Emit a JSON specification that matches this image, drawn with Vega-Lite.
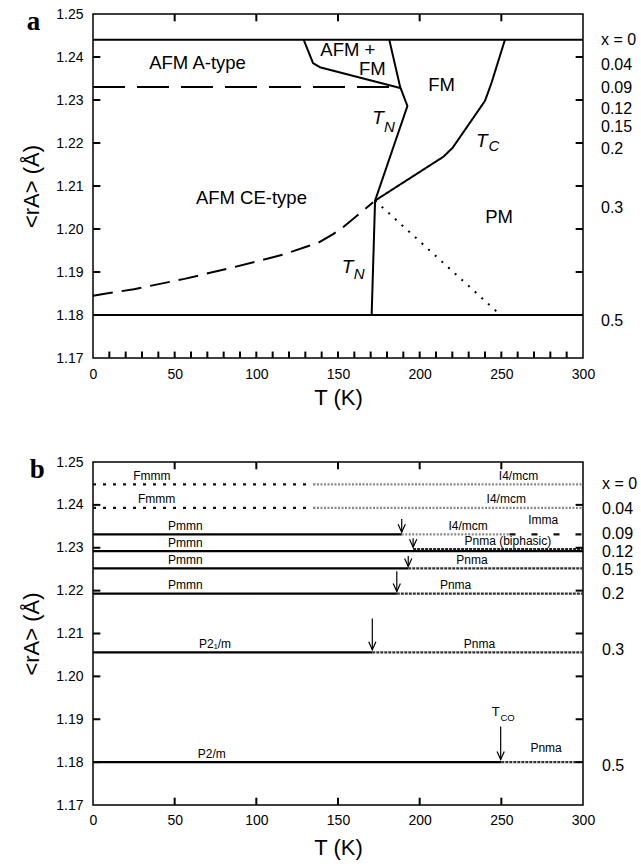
{
  "$schema": "https://vega.github.io/schema/vega-lite/v6.json",
  "padding": {"left": 20, "top": 6, "right": 5, "bottom": 5},
  "config": {
    "font": "Liberation Sans",
    "view": {"stroke": "black", "strokeWidth": 1.5},
    "axis": {"domain": false, "grid": false, "ticks": false, "labelColor": "black", "titleColor": "black", "labelFont": "Liberation Sans", "titleFont": "Liberation Sans", "labelFontSize": 14, "titleFontSize": 22, "titleFontWeight": "normal", "labelFlush": false, "labelOverlap": false}
  },
  "resolve": {"scale": {"strokeDash": "independent", "color": "independent", "strokeWidth": "independent"}},
  "datasets": {
    "ticksMinorT": [{"T": 10}, {"T": 20}, {"T": 30}, {"T": 40}, {"T": 50}, {"T": 60}, {"T": 70}, {"T": 80}, {"T": 90}, {"T": 100}, {"T": 110}, {"T": 120}, {"T": 130}, {"T": 140}, {"T": 150}, {"T": 160}, {"T": 170}, {"T": 180}, {"T": 190}, {"T": 200}, {"T": 210}, {"T": 220}, {"T": 230}, {"T": 240}, {"T": 250}, {"T": 260}, {"T": 270}, {"T": 280}, {"T": 290}],
    "ticksMajorT": [{"T": 50}, {"T": 100}, {"T": 150}, {"T": 200}, {"T": 250}],
    "ticksR": [{"rA": 1.18}, {"rA": 1.19}, {"rA": 1.2}, {"rA": 1.21}, {"rA": 1.22}, {"rA": 1.23}, {"rA": 1.24}],
    "boundariesA": [
      {"line": "x0", "i": 1, "T": 0, "rA": 1.244, "kind": "boundary"},
      {"line": "x0", "i": 2, "T": 300, "rA": 1.244, "kind": "boundary"},
      {"line": "x05", "i": 1, "T": 0, "rA": 1.18, "kind": "boundary"},
      {"line": "x05", "i": 2, "T": 300, "rA": 1.18, "kind": "boundary"},
      {"line": "Atype", "i": 1, "T": 0, "rA": 1.233, "kind": "A-type limit"},
      {"line": "Atype", "i": 2, "T": 188, "rA": 1.233, "kind": "A-type limit"},
      {"line": "AFMFM", "i": 1, "T": 129, "rA": 1.244, "kind": "boundary"},
      {"line": "AFMFM", "i": 2, "T": 134.7, "rA": 1.2386, "kind": "boundary"},
      {"line": "AFMFM", "i": 3, "T": 139, "rA": 1.2376, "kind": "boundary"},
      {"line": "AFMFM", "i": 4, "T": 188, "rA": 1.2328, "kind": "boundary"},
      {"line": "TN", "i": 1, "T": 181.4, "rA": 1.244, "kind": "boundary"},
      {"line": "TN", "i": 2, "T": 188, "rA": 1.2331, "kind": "boundary"},
      {"line": "TN", "i": 3, "T": 192.5, "rA": 1.2286, "kind": "boundary"},
      {"line": "TN", "i": 4, "T": 172.7, "rA": 1.2066, "kind": "boundary"},
      {"line": "TN", "i": 5, "T": 170.6, "rA": 1.18, "kind": "boundary"},
      {"line": "TC", "i": 1, "T": 252.2, "rA": 1.244, "kind": "boundary"},
      {"line": "TC", "i": 2, "T": 244, "rA": 1.234, "kind": "boundary"},
      {"line": "TC", "i": 3, "T": 240, "rA": 1.2298, "kind": "boundary"},
      {"line": "TC", "i": 4, "T": 220.2, "rA": 1.2189, "kind": "boundary"},
      {"line": "TC", "i": 5, "T": 214.5, "rA": 1.2168, "kind": "boundary"},
      {"line": "TC", "i": 6, "T": 172.7, "rA": 1.2066, "kind": "boundary"},
      {"line": "CE", "i": 1, "T": 0, "rA": 1.1845, "kind": "CE limit"},
      {"line": "CE", "i": 2, "T": 10, "rA": 1.1851, "kind": "CE limit"},
      {"line": "CE", "i": 3, "T": 25, "rA": 1.186, "kind": "CE limit"},
      {"line": "CE", "i": 4, "T": 56, "rA": 1.1884, "kind": "CE limit"},
      {"line": "CE", "i": 5, "T": 86, "rA": 1.1911, "kind": "CE limit"},
      {"line": "CE", "i": 6, "T": 116, "rA": 1.194, "kind": "CE limit"},
      {"line": "CE", "i": 7, "T": 138, "rA": 1.1968, "kind": "CE limit"},
      {"line": "CE", "i": 8, "T": 147, "rA": 1.1988, "kind": "CE limit"},
      {"line": "CE", "i": 9, "T": 153, "rA": 1.2004, "kind": "CE limit"},
      {"line": "CE", "i": 10, "T": 171.5, "rA": 1.2062, "kind": "CE limit"},
      {"line": "CO", "i": 1, "T": 172.7, "rA": 1.2066, "kind": "charge order"},
      {"line": "CO", "i": 2, "T": 248.6, "rA": 1.1803, "kind": "charge order"}
    ],
    "regionsA": [
      {"label": "AFM A-type", "T": 64, "rA": 1.2385},
      {"label": "AFM +", "T": 156, "rA": 1.2417},
      {"label": "FM", "T": 171, "rA": 1.2371},
      {"label": "FM", "T": 213.4, "rA": 1.2335},
      {"label": "AFM CE-type", "T": 97, "rA": 1.2072},
      {"label": "PM", "T": 248.6, "rA": 1.2028}
    ],
    "symbolsA": [
      {"text": "T", "role": "main", "T": 174.5, "rA": 1.2259},
      {"text": "N", "role": "sub", "T": 181.5, "rA": 1.2238},
      {"text": "T", "role": "main", "T": 238, "rA": 1.2204},
      {"text": "C", "role": "sub", "T": 245.5, "rA": 1.2192},
      {"text": "T", "role": "main", "T": 155.8, "rA": 1.1912},
      {"text": "N", "role": "sub", "T": 163, "rA": 1.1895}
    ],
    "compositions": [
      {"composition": "x = 0", "rA_a": 1.244, "rA_b": 1.2448},
      {"composition": "0.04", "rA_a": 1.2382, "rA_b": 1.2391},
      {"composition": "0.09", "rA_a": 1.2327, "rA_b": 1.2331},
      {"composition": "0.12", "rA_a": 1.228, "rA_b": 1.229},
      {"composition": "0.15", "rA_a": 1.2237, "rA_b": 1.2247},
      {"composition": "0.2", "rA_a": 1.2186, "rA_b": 1.2193},
      {"composition": "0.3", "rA_a": 1.2049, "rA_b": 1.2061},
      {"composition": "0.5", "rA_a": 1.1786, "rA_b": 1.1792}
    ],
    "segmentsB": [
      {"composition": "0", "phase": "Fmmm", "T1": 0, "T2": 135, "rA": 1.2448},
      {"composition": "0", "phase": "I4/mcm", "T1": 135, "T2": 300, "rA": 1.2448},
      {"composition": "0.04", "phase": "Fmmm", "T1": 0, "T2": 135, "rA": 1.2393},
      {"composition": "0.04", "phase": "I4/mcm", "T1": 135, "T2": 300, "rA": 1.2393},
      {"composition": "0.09", "phase": "Pmmn", "T1": 0, "T2": 189, "rA": 1.2331},
      {"composition": "0.09", "phase": "I4/mcm", "T1": 189, "T2": 255, "rA": 1.2331},
      {"composition": "0.09", "phase": "Imma", "T1": 255, "T2": 300, "rA": 1.2331},
      {"composition": "0.12", "phase": "Pmmn", "T1": 0, "T2": 300, "rA": 1.2292},
      {"composition": "0.12", "phase": "Pnma (biphasic)", "T1": 196, "T2": 300, "rA": 1.2297},
      {"composition": "0.15", "phase": "Pmmn", "T1": 0, "T2": 193, "rA": 1.2252},
      {"composition": "0.15", "phase": "Pnma", "T1": 193, "T2": 300, "rA": 1.2252},
      {"composition": "0.2", "phase": "Pmmn", "T1": 0, "T2": 186, "rA": 1.2193},
      {"composition": "0.2", "phase": "Pnma", "T1": 186, "T2": 300, "rA": 1.2193},
      {"composition": "0.3", "phase": "P2₁/m", "T1": 0, "T2": 171, "rA": 1.2056},
      {"composition": "0.3", "phase": "Pnma", "T1": 171, "T2": 300, "rA": 1.2056},
      {"composition": "0.5", "phase": "P2/m", "T1": 0, "T2": 250, "rA": 1.18},
      {"composition": "0.5", "phase": "Pnma", "T1": 250, "T2": 300, "rA": 1.18}
    ],
    "arrowsB": [
      {"composition": "0.09", "T": 189, "rTop": 1.2367, "rTip": 1.2336},
      {"composition": "0.12", "T": 196, "rTop": 1.2322, "rTip": 1.2301},
      {"composition": "0.15", "T": 193, "rTop": 1.2281, "rTip": 1.2256},
      {"composition": "0.2", "T": 186, "rTop": 1.2245, "rTip": 1.2198},
      {"composition": "0.3", "T": 171, "rTop": 1.2135, "rTip": 1.2062},
      {"composition": "0.5", "T": 249.6, "rTop": 1.1883, "rTip": 1.1806}
    ],
    "phaseLabelsB": [
      {"label": "Fmmm", "T": 36, "rA": 1.2448},
      {"label": "Fmmm", "T": 39, "rA": 1.2393},
      {"label": "Pmmn", "T": 56.6, "rA": 1.2331},
      {"label": "Pmmn", "T": 56.6, "rA": 1.2292},
      {"label": "Pmmn", "T": 56.6, "rA": 1.2252},
      {"label": "Pmmn", "T": 56.6, "rA": 1.2193},
      {"label": "P2₁/m", "T": 74.7, "rA": 1.2056},
      {"label": "P2/m", "T": 72.7, "rA": 1.18},
      {"label": "I4/mcm", "T": 260.5, "rA": 1.2448},
      {"label": "I4/mcm", "T": 253, "rA": 1.2393},
      {"label": "I4/mcm", "T": 229.7, "rA": 1.2331},
      {"label": "Imma", "T": 275.6, "rA": 1.2345},
      {"label": "Pnma (biphasic)", "T": 254, "rA": 1.2297},
      {"label": "Pnma", "T": 232, "rA": 1.2252},
      {"label": "Pnma", "T": 222, "rA": 1.2193},
      {"label": "Pnma", "T": 236.6, "rA": 1.2056},
      {"label": "Pnma", "T": 277.4, "rA": 1.1814}
    ],
    "symbolsB": [
      {"text": "T", "role": "main", "T": 246.5, "rA": 1.1916},
      {"text": "CO", "role": "sub", "T": 253.8, "rA": 1.1904}
    ]
  },
  "vconcat": [
    {
      "width": 490,
      "height": 344,
      "title": {"text": "a", "anchor": "start", "frame": "bounds", "font": "Liberation Serif", "fontSize": 27, "fontWeight": "bold", "color": "black", "dy": 33, "dx": 6},
      "layer": [
        {
          "data": {"name": "boundariesA"},
          "mark": {"type": "line", "strokeWidth": 2, "color": "black"},
          "encoding": {
            "x": {"field": "T", "type": "quantitative", "scale": {"domain": [0, 300], "nice": false},
              "axis": {"orient": "bottom", "values": [0, 50, 100, 150, 200, 250, 300], "labelPadding": 9, "title": "T (K)", "titlePadding": 6}},
            "y": {"field": "rA", "type": "quantitative", "scale": {"domain": [1.17, 1.25], "nice": false, "zero": false},
              "axis": {"orient": "left", "values": [1.17,1.18,1.19,1.2,1.21,1.22,1.23,1.24,1.25], "format": ".2f", "labelPadding": 10, "title": "<rA> (Å)", "titlePadding": 12}},
            "detail": {"field": "line"},
            "order": {"field": "i"},
            "strokeDash": {"field": "kind", "type": "nominal", "scale": {"domain": ["boundary", "A-type limit", "CE limit", "charge order"], "range": [[1, 0], [32, 12], [20, 9], [2, 7]]}, "legend": null}
          }
        },
        {
          "data": {"name": "ticksMinorT"},
          "mark": {"type": "rule", "color": "black", "strokeWidth": 2},
          "encoding": {
            "x": {"field": "T", "type": "quantitative"},
            "y": {"datum": 1.17, "type": "quantitative"},
            "y2": {"datum": 1.1715}
          }
        },
        {
          "data": {"name": "ticksMajorT"},
          "mark": {"type": "rule", "color": "black", "strokeWidth": 2},
          "encoding": {
            "x": {"field": "T", "type": "quantitative"},
            "y": {"datum": 1.25, "type": "quantitative"},
            "y2": {"datum": 1.2483}
          }
        },
        {
          "data": {"name": "ticksR"},
          "mark": {"type": "rule", "color": "black", "strokeWidth": 2},
          "encoding": {
            "x": {"datum": 0, "type": "quantitative"},
            "x2": {"datum": 4.5},
            "y": {"field": "rA", "type": "quantitative"}
          }
        },
        {
          "data": {"name": "ticksR"},
          "mark": {"type": "rule", "color": "black", "strokeWidth": 2},
          "encoding": {
            "x": {"datum": 300, "type": "quantitative"},
            "x2": {"datum": 295.5},
            "y": {"field": "rA", "type": "quantitative"}
          }
        },
        {
          "data": {"name": "regionsA"},
          "mark": {"type": "text", "fontSize": 18.5, "baseline": "middle", "align": "center", "color": "black"},
          "encoding": {
            "x": {"field": "T", "type": "quantitative"},
            "y": {"field": "rA", "type": "quantitative"},
            "text": {"field": "label"}
          }
        },
        {
          "data": {"name": "symbolsA"},
          "transform": [{"filter": "datum.role === 'main'"}],
          "mark": {"type": "text", "fontSize": 19, "fontStyle": "italic", "baseline": "middle", "align": "center", "color": "black"},
          "encoding": {
            "x": {"field": "T", "type": "quantitative"},
            "y": {"field": "rA", "type": "quantitative"},
            "text": {"field": "text"}
          }
        },
        {
          "data": {"name": "symbolsA"},
          "transform": [{"filter": "datum.role === 'sub'"}],
          "mark": {"type": "text", "fontSize": 15, "fontStyle": "italic", "baseline": "middle", "align": "center", "color": "black"},
          "encoding": {
            "x": {"field": "T", "type": "quantitative"},
            "y": {"field": "rA", "type": "quantitative"},
            "text": {"field": "text"}
          }
        },
        {
          "data": {"name": "compositions"},
          "mark": {"type": "text", "fontSize": 16, "baseline": "middle", "align": "left", "dx": 18, "color": "black"},
          "encoding": {
            "x": {"datum": 300, "type": "quantitative"},
            "y": {"field": "rA_a", "type": "quantitative"},
            "text": {"field": "composition"}
          }
        }
      ]
    },
    {
      "width": 490,
      "height": 343,
      "title": {"text": "b", "anchor": "start", "frame": "bounds", "font": "Liberation Serif", "fontSize": 27, "fontWeight": "bold", "color": "black", "dy": 33, "dx": 9},
      "layer": [
        {
          "data": {"name": "segmentsB"},
          "mark": {"type": "rule"},
          "encoding": {
            "x": {"field": "T1", "type": "quantitative", "scale": {"domain": [0, 300], "nice": false},
              "axis": {"orient": "bottom", "values": [0, 50, 100, 150, 200, 250, 300], "labelPadding": 8, "title": "T (K)", "titlePadding": 10}},
            "x2": {"field": "T2"},
            "y": {"field": "rA", "type": "quantitative", "scale": {"domain": [1.17, 1.25], "nice": false, "zero": false},
              "axis": {"orient": "left", "values": [1.17,1.18,1.19,1.2,1.21,1.22,1.23,1.24,1.25], "format": ".2f", "labelPadding": 10, "title": "<rA> (Å)", "titlePadding": 12}},
            "color": {"field": "phase", "type": "nominal", "scale": {"domain": ["Fmmm", "I4/mcm", "Pmmn", "Imma", "Pnma", "Pnma (biphasic)", "P2₁/m", "P2/m"], "range": ["#111111", "#8a8a8a", "#000000", "#111111", "#333333", "#222222", "#000000", "#000000"]}, "legend": null},
            "strokeDash": {"field": "phase", "type": "nominal", "scale": {"domain": ["Fmmm", "I4/mcm", "Pmmn", "Imma", "Pnma", "Pnma (biphasic)", "P2₁/m", "P2/m"], "range": [[3, 7], [2, 1.5], [1, 0], [6, 16], [3, 1], [3, 1], [1, 0], [1, 0]]}, "legend": null},
            "strokeWidth": {"field": "phase", "type": "nominal", "scale": {"domain": ["Fmmm", "I4/mcm", "Pmmn", "Imma", "Pnma", "Pnma (biphasic)", "P2₁/m", "P2/m"], "range": [2.2, 2.2, 2.5, 4, 3, 3.5, 2.5, 2.5]}, "legend": null}
          }
        },
        {
          "data": {"name": "ticksMajorT"},
          "mark": {"type": "rule", "color": "black", "strokeWidth": 2},
          "encoding": {
            "x": {"field": "T", "type": "quantitative"},
            "y": {"datum": 1.17, "type": "quantitative"},
            "y2": {"datum": 1.1717}
          }
        },
        {
          "data": {"name": "ticksMajorT"},
          "mark": {"type": "rule", "color": "black", "strokeWidth": 2},
          "encoding": {
            "x": {"field": "T", "type": "quantitative"},
            "y": {"datum": 1.25, "type": "quantitative"},
            "y2": {"datum": 1.2483}
          }
        },
        {
          "data": {"name": "ticksR"},
          "mark": {"type": "rule", "color": "black", "strokeWidth": 2},
          "encoding": {
            "x": {"datum": 0, "type": "quantitative"},
            "x2": {"datum": 4.5},
            "y": {"field": "rA", "type": "quantitative"}
          }
        },
        {
          "data": {"name": "ticksR"},
          "mark": {"type": "rule", "color": "black", "strokeWidth": 2},
          "encoding": {
            "x": {"datum": 300, "type": "quantitative"},
            "x2": {"datum": 295.5},
            "y": {"field": "rA", "type": "quantitative"}
          }
        },
        {
          "data": {"name": "arrowsB"},
          "mark": {"type": "rule", "color": "black", "strokeWidth": 1.2},
          "encoding": {
            "x": {"field": "T", "type": "quantitative"},
            "y": {"field": "rTop", "type": "quantitative"},
            "y2": {"field": "rTip"}
          }
        },
        {
          "data": {"name": "arrowsB"},
          "mark": {"type": "point", "shape": "M-0.45,-1L0,0L0.45,-1", "size": 256, "filled": false, "color": "black", "strokeWidth": 1.2, "opacity": 1},
          "encoding": {
            "x": {"field": "T", "type": "quantitative"},
            "y": {"field": "rTip", "type": "quantitative"}
          }
        },
        {
          "data": {"name": "phaseLabelsB"},
          "mark": {"type": "text", "fontSize": 12, "baseline": "bottom", "align": "center", "dy": -1.5, "color": "black"},
          "encoding": {
            "x": {"field": "T", "type": "quantitative"},
            "y": {"field": "rA", "type": "quantitative"},
            "text": {"field": "label"}
          }
        },
        {
          "data": {"name": "symbolsB"},
          "transform": [{"filter": "datum.role === 'main'"}],
          "mark": {"type": "text", "fontSize": 13, "baseline": "middle", "align": "center", "color": "black"},
          "encoding": {
            "x": {"field": "T", "type": "quantitative"},
            "y": {"field": "rA", "type": "quantitative"},
            "text": {"field": "text"}
          }
        },
        {
          "data": {"name": "symbolsB"},
          "transform": [{"filter": "datum.role === 'sub'"}],
          "mark": {"type": "text", "fontSize": 9.5, "baseline": "middle", "align": "center", "color": "black"},
          "encoding": {
            "x": {"field": "T", "type": "quantitative"},
            "y": {"field": "rA", "type": "quantitative"},
            "text": {"field": "text"}
          }
        },
        {
          "data": {"name": "compositions"},
          "mark": {"type": "text", "fontSize": 16, "baseline": "middle", "align": "left", "dx": 19, "color": "black"},
          "encoding": {
            "x": {"datum": 300, "type": "quantitative"},
            "y": {"field": "rA_b", "type": "quantitative"},
            "text": {"field": "composition"}
          }
        }
      ]
    }
  ],
  "spacing": 45
}
